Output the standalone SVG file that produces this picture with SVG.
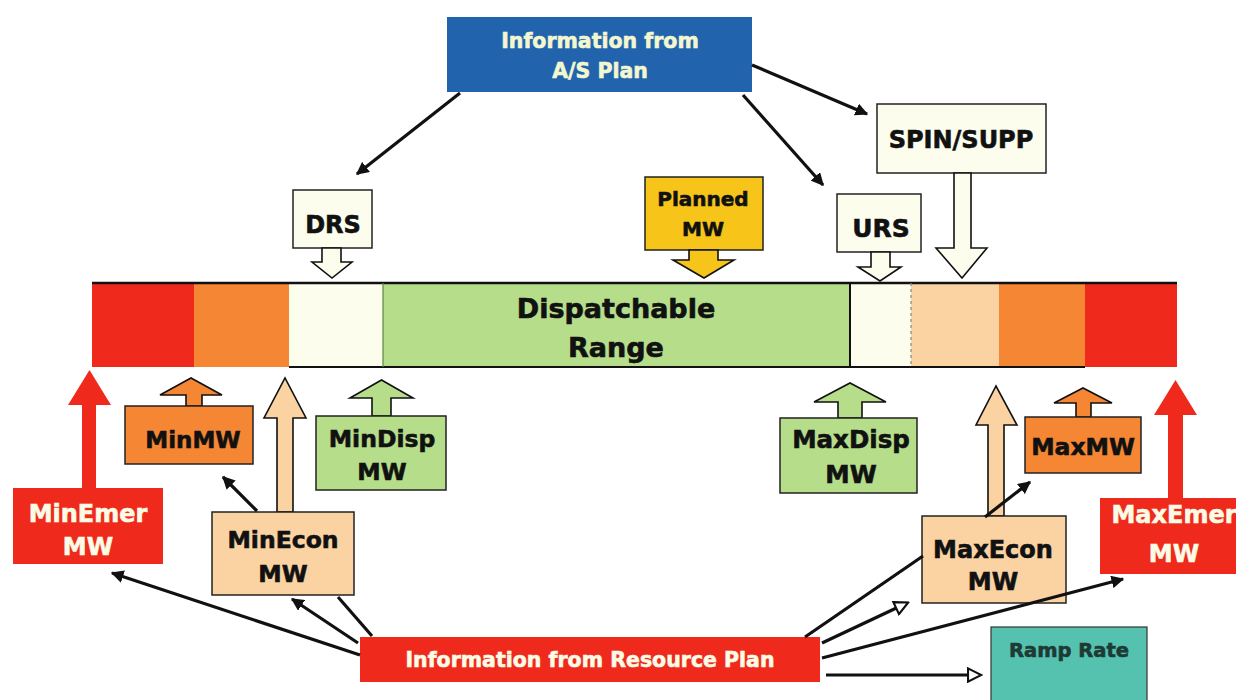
<svg xmlns="http://www.w3.org/2000/svg" width="1236" height="700" viewBox="0 0 1236 700">
  <defs>
    <marker id="head" viewBox="0 0 10 10" refX="9" refY="5" markerWidth="4" markerHeight="4" orient="auto" markerUnits="strokeWidth">
      <path d="M0,0 L10,5 L0,10 Z" fill="#111"/>
    </marker>
    <marker id="hollow" viewBox="0 0 12 12" refX="10" refY="6" markerWidth="5" markerHeight="5" orient="auto" markerUnits="strokeWidth">
      <path d="M1,1 L11,6 L1,11 Z" fill="#fff" stroke="#111" stroke-width="1.6"/>
    </marker>
    <style>
      .t { font-family: "DejaVu Sans", "Liberation Sans", sans-serif; font-weight: bold; text-anchor: middle; stroke-width: 0.6; }
      .dark { fill: #111; stroke: #111; }
      .light { fill: #fbfbe6; stroke: #fbfbe6; }
      .box { stroke: #222; stroke-width: 1.5; }
      .red { fill: #ef2a1c; }
      .orange { fill: #f58634; }
      .peach { fill: #fbd3a2; }
      .green { fill: #b5dd8a; }
      .cream { fill: #fdfdee; }
      .gold { fill: #f7c41a; }
      .blk { stroke: #111; stroke-width: 1.6; stroke-linejoin: miter; }
      .conn { fill: none; stroke: #111; stroke-width: 3.2; }
    </style>
  </defs>

  <rect width="1236" height="700" fill="#ffffff"/>

  <!-- Operating range bar -->
  <g id="range-bar">
    <rect x="92" y="283" width="102" height="84" class="red"/>
    <rect x="194" y="283" width="95" height="84" class="orange"/>
    <rect x="289" y="283" width="94" height="84" class="cream"/>
    <rect x="383" y="283" width="467" height="84" class="green"/>
    <rect x="850" y="283" width="61" height="84" class="cream"/>
    <rect x="911" y="283" width="88" height="84" class="peach"/>
    <rect x="999" y="283" width="86" height="84" class="orange"/>
    <rect x="1085" y="283" width="92" height="84" class="red"/>
    <line x1="92" y1="283" x2="1177" y2="283" stroke="#111" stroke-width="2.5"/>
    <line x1="289" y1="367" x2="1085" y2="367" stroke="#111" stroke-width="2"/>
    <line x1="383" y1="283" x2="383" y2="367" stroke="#5a8a3a" stroke-width="1.2"/>
    <line x1="850" y1="283" x2="850" y2="367" stroke="#111" stroke-width="2"/>
    <line x1="911" y1="283" x2="911" y2="367" stroke="#888" stroke-width="1.2" stroke-dasharray="3 3"/>
    <text class="t dark" x="616" y="318" font-size="27">Dispatchable</text>
    <text class="t dark" x="616" y="357" font-size="27">Range</text>
  </g>

  <!-- Upper sources -->
  <g id="as-plan">
    <rect x="447" y="17" width="305" height="75" fill="#2163ad"/>
    <text class="t" x="600" y="48" font-size="20.5" fill="#f3f7cf" stroke="#f3f7cf">Information from</text>
    <text class="t" x="600" y="78" font-size="20.5" fill="#f3f7cf" stroke="#f3f7cf">A/S Plan</text>
  </g>

  <g id="drs">
    <rect x="293" y="190" width="79" height="58" class="cream box"/>
    <polygon points="322,248 322,262 312,262 332,278 352,262 341,262 341,248" class="cream blk"/>
    <text class="t dark" x="333" y="233" font-size="24">DRS</text>
  </g>

  <g id="planned-mw">
    <rect x="645" y="177" width="118" height="73" class="gold box"/>
    <polygon points="689,250 689,260 673,260 704,278 734,260 718,260 718,250" class="gold blk"/>
    <text class="t dark" x="703" y="206" font-size="20">Planned</text>
    <text class="t dark" x="703" y="236" font-size="20">MW</text>
  </g>

  <g id="urs">
    <rect x="837" y="194" width="84" height="58" class="cream box"/>
    <polygon points="871,252 871,267 858,267 880,281 901,267 890,267 890,252" class="cream blk"/>
    <text class="t dark" x="881" y="237" font-size="25">URS</text>
  </g>

  <g id="spin-supp">
    <rect x="877" y="104" width="169" height="69" class="cream box"/>
    <polygon points="954,173 954,248 936,248 962,278 987,248 971,248 971,173" class="cream blk"/>
    <text class="t dark" x="961" y="148" font-size="24">SPIN/SUPP</text>
  </g>

  <!-- Lower limits -->
  <g id="min-emer">
    <polygon points="82,488 82,405 68,405 89.5,370 111,405 96,405 96,488" class="red"/>
    <rect x="13" y="488" width="150" height="76" class="red"/>
    <text class="t light" x="88" y="522" font-size="24">MinEmer</text>
    <text class="t light" x="88" y="555" font-size="24">MW</text>
  </g>

  <g id="min-mw">
    <polygon points="186,406 186,395 160,395 191,378 222,395 202,395 202,406" class="orange blk"/>
    <rect x="125" y="406" width="128" height="58" class="orange box"/>
    <text class="t dark" x="193" y="448" font-size="23">MinMW</text>
  </g>

  <g id="min-econ">
    <polygon points="277,512 277,418 264,418 285,378 306,418 293,418 293,512" class="peach blk"/>
    <rect x="212" y="512" width="142" height="83" class="peach box"/>
    <text class="t dark" x="283" y="548" font-size="23.5">MinEcon</text>
    <text class="t dark" x="283" y="582" font-size="23.5">MW</text>
  </g>

  <g id="min-disp">
    <polygon points="372,416 372,398 350,398 381.5,380 413,398 391,398 391,416" class="green blk"/>
    <rect x="316" y="416" width="130" height="74" class="green box"/>
    <text class="t dark" x="382" y="447" font-size="23.5">MinDisp</text>
    <text class="t dark" x="382" y="480" font-size="23.5">MW</text>
  </g>

  <g id="max-disp">
    <polygon points="838,418 838,402 814,402 850,383 886,402 862,402 862,418" class="green blk"/>
    <rect x="780" y="418" width="137" height="75" class="green box"/>
    <text class="t dark" x="851" y="448" font-size="24.5">MaxDisp</text>
    <text class="t dark" x="851" y="483" font-size="24.5">MW</text>
  </g>

  <g id="max-econ">
    <polygon points="988,516 988,425 976,425 996,386 1017,425 1004,425 1004,516" class="peach blk"/>
    <rect x="922" y="516" width="144" height="87" class="peach box"/>
    <text class="t dark" x="993" y="558" font-size="24">MaxEcon</text>
    <text class="t dark" x="993" y="590" font-size="24">MW</text>
  </g>

  <g id="max-mw">
    <polygon points="1076,417 1076,403 1054,403 1083,388 1112,403 1091,403 1091,417" class="orange blk"/>
    <rect x="1025" y="417" width="116" height="56" class="orange box"/>
    <text class="t dark" x="1083" y="455" font-size="23.5">MaxMW</text>
  </g>

  <g id="max-emer">
    <polygon points="1168,498 1168,415 1154,415 1175.5,380 1197,415 1183,415 1183,498" class="red"/>
    <rect x="1100" y="498" width="140" height="76" class="red"/>
    <text class="t light" x="1174" y="523" font-size="24">MaxEmer</text>
    <text class="t light" x="1174" y="562" font-size="24">MW</text>
  </g>

  <g id="resource-plan">
    <rect x="360" y="637" width="460" height="45" class="red"/>
    <text class="t light" x="590" y="667" font-size="20.5">Information from Resource Plan</text>
  </g>

  <g id="ramp-rate">
    <rect x="991" y="627" width="156" height="80" fill="#55c2b0" stroke="#333" stroke-width="1.2"/>
    <text class="t" x="1069" y="657" font-size="19.5" fill="#1d3a35" stroke="#1d3a35">Ramp Rate</text>
  </g>

  <!-- Connectors -->
  <g id="connectors">
    <line x1="460" y1="93" x2="357" y2="174" class="conn" marker-end="url(#head)"/>
    <line x1="752" y1="65" x2="867" y2="114" class="conn" marker-end="url(#head)"/>
    <line x1="743" y1="95" x2="823" y2="185" class="conn" marker-end="url(#head)"/>
    <line x1="257" y1="511" x2="223" y2="477" class="conn" marker-end="url(#head)"/>
    <line x1="985" y1="517" x2="1030" y2="482" class="conn" marker-end="url(#head)"/>
    <line x1="360" y1="655" x2="112" y2="573" class="conn" marker-end="url(#head)"/>
    <line x1="358" y1="643" x2="292" y2="599" class="conn" marker-end="url(#head)"/>
    <line x1="372" y1="636" x2="338" y2="597" class="conn"/>
    <line x1="805" y1="637" x2="923" y2="556" class="conn"/>
    <line x1="822" y1="643" x2="907" y2="603" class="conn" marker-end="url(#hollow)"/>
    <line x1="822" y1="658" x2="1123" y2="579" class="conn" marker-end="url(#head)"/>
    <line x1="826" y1="675" x2="980" y2="675" class="conn" marker-end="url(#hollow)"/>
  </g>
</svg>
